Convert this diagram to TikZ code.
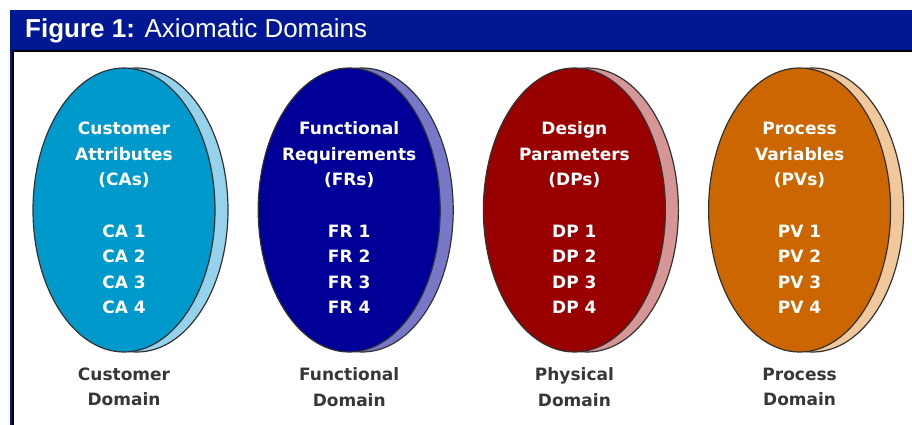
\documentclass[tikz,border=0pt]{standalone}
\usepackage{fontspec}
\setmainfont{Liberation Sans}
\newfontfamily\discfont{DejaVu Sans}
\usepackage{xcolor}
\usetikzlibrary{shapes.geometric,positioning}

\definecolor{barblue}{RGB}{0,24,148}
\definecolor{rimgray}{RGB}{50,50,50}
\definecolor{labelgray}{RGB}{55,55,55}
\definecolor{cafront}{RGB}{0,153,204}
\definecolor{caback}{RGB}{150,210,235}
\definecolor{frfront}{RGB}{0,0,153}
\definecolor{frback}{RGB}{120,120,200}
\definecolor{dpfront}{RGB}{153,0,0}
\definecolor{dpback}{RGB}{215,150,150}
\definecolor{pvfront}{RGB}{204,102,0}
\definecolor{pvback}{RGB}{240,200,155}

\begin{document}
\begin{tikzpicture}[x=1pt,y=-1pt,node distance=42pt,
	disc/.style={ellipse,draw=rimgray,line width=1.2pt,minimum width=182pt,minimum height=284pt,inner sep=0pt},
	disctext/.style={text=white,font=\discfont\bfseries\fontsize{17}{25.5}\selectfont,align=center,inner sep=0pt},
	domainname/.style={text=labelgray,font=\discfont\bfseries\fontsize{17}{25.5}\selectfont,align=center,inner sep=0pt}]
	\useasboundingbox (0,0) rectangle (912,425);

	% title bar and frame
	\fill[barblue] (10,10) rectangle (912,50);
	\draw[barblue,line width=2pt] (11,50) -- (11,425);
	\draw[black,line width=2pt] (12,51) -- (912,51);
	\draw[black,line width=2pt] (13,51) -- (13,425);
	\node[anchor=west,text=white,font=\fontsize{26}{30}\selectfont,inner sep=0pt] (title) at (25,31) {\textbf{Figure 1:} Axiomatic Domains};

	% rims behind the discs
	\node[disc,fill=caback] (caback) at (137,210) {};
	\node[disc,fill=frback] (frback) [right=of caback] {};
	\node[disc,fill=dpback] (dpback) [right=of frback] {};
	\node[disc,fill=pvback] (pvback) [right=of dpback] {};

	% discs
	\node[disc,fill=cafront] (ca) at ([xshift=-13pt]caback.center) {};
	\node[disc,fill=frfront] (fr) at ([xshift=-13pt]frback.center) {};
	\node[disc,fill=dpfront] (dp) at ([xshift=-13pt]dpback.center) {};
	\node[disc,fill=pvfront] (pv) at ([xshift=-13pt]pvback.center) {};

	\node[disctext] (calist) at ([yshift=-8pt]ca.center) {Customer\\Attributes\\(CAs)\\[26pt]CA 1\\CA 2\\CA 3\\CA 4};
	\node[disctext] (frlist) at ([yshift=-8pt]fr.center) {Functional\\Requirements\\(FRs)\\[26pt]FR 1\\FR 2\\FR 3\\FR 4};
	\node[disctext] (dplist) at ([yshift=-8pt]dp.center) {Design\\Parameters\\(DPs)\\[26pt]DP 1\\DP 2\\DP 3\\DP 4};
	\node[disctext] (pvlist) at ([yshift=-8pt]pv.center) {Process\\Variables\\(PVs)\\[26pt]PV 1\\PV 2\\PV 3\\PV 4};

	% domain names
	\node[domainname] (cadom) [below=15pt of ca] {Customer\\Domain};
	\node[domainname] (frdom) [below=15pt of fr] {Functional\\Domain};
	\node[domainname] (dpdom) [below=15pt of dp] {Physical\\Domain};
	\node[domainname] (pvdom) [below=15pt of pv] {Process\\Domain};
\end{tikzpicture}
\end{document}
